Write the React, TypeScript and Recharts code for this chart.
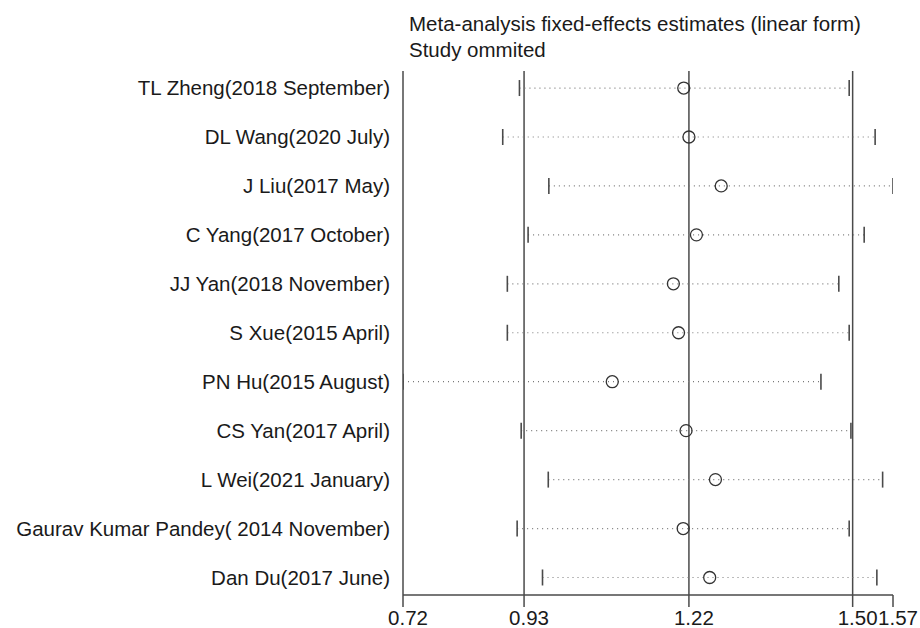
import React from 'react';
import {
  ScatterChart,
  Scatter,
  XAxis,
  YAxis,
  ReferenceLine,
} from 'recharts';

const studies = [
  'TL Zheng(2018 September)',
  'DL Wang(2020 July)',
  'J Liu(2017 May)',
  'C Yang(2017 October)',
  'JJ Yan(2018 November)',
  'S Xue(2015 April)',
  'PN Hu(2015 August)',
  'CS Yan(2017 April)',
  'L Wei(2021 January)',
  'Gaurav Kumar Pandey( 2014 November)',
  'Dan Du(2017 June)',
];

const estimates = [1.207, 1.216, 1.272, 1.229, 1.189, 1.198, 1.083, 1.211, 1.262, 1.206, 1.252];
const lowers = [0.922, 0.893, 0.973, 0.937, 0.901, 0.901, 0.72, 0.925, 0.972, 0.918, 0.962];
const uppers = [1.494, 1.539, 1.57, 1.52, 1.476, 1.494, 1.445, 1.497, 1.552, 1.494, 1.542];

// axis ticks: min lower, overall lower, estimate, overall upper, max upper
const axisTicks = [0.72, 0.93, 1.216, 1.5, 1.57];
const refLines = [0.93, 1.216, 1.5];

const titleLines = [
  'Meta-analysis fixed-effects estimates (linear form)',
  'Study ommited',
];

const FONT = '"Liberation Sans", Arial, sans-serif';
const FONT_SIZE = 20.5;
const LINE = '#4a4a4a';

const estData = estimates.map((v, i) => ({ x: v, y: i }));
const lowData = lowers.map((v, i) => ({ x: v, y: i }));
const highData = uppers.map((v, i) => ({ x: v, y: i }));

const Cap = (props: any) => (
  <line
    x1={props.cx}
    x2={props.cx}
    y1={props.cy - 8}
    y2={props.cy + 8}
    stroke={LINE}
    strokeWidth={1.6}
  />
);

const Ring = (props: any) => (
  <circle cx={props.cx} cy={props.cy} r={6} fill="none" stroke="#333" strokeWidth={1.3} />
);

const XTick = (props: any) => {
  const { x, y, payload } = props;
  return (
    <text
      x={x + 5}
      y={y}
      dy="0.71em"
      textAnchor="middle"
      fontFamily={FONT}
      fontSize={FONT_SIZE}
      fill="#1a1a1a"
    >
      {Number(payload.value).toFixed(2)}
    </text>
  );
};

export default function App() {
  return (
    <div style={{ position: 'absolute', left: 0, top: 0, width: 920, height: 628, background: '#fff' }}>
      <div
        style={{
          position: 'absolute',
          left: 409,
          top: 10.6,
          fontFamily: FONT,
          fontSize: FONT_SIZE,
          lineHeight: '26px',
          color: '#1a1a1a',
          whiteSpace: 'nowrap',
        }}
      >
        {titleLines.map((t) => (
          <div key={t}>{t}</div>
        ))}
      </div>
      <ScatterChart
        width={920}
        height={628}
        margin={{ top: 71, right: 27, bottom: 0, left: 0 }}
      >
        <XAxis
          type="number"
          dataKey="x"
          domain={[0.72, 1.57]}
          allowDataOverflow
          ticks={axisTicks}
          interval={0}
          height={33}
          tickSize={12}
          tickMargin={3}
          axisLine={{ stroke: LINE, strokeWidth: 1.5 }}
          tickLine={{ stroke: LINE, strokeWidth: 1.5 }}
          tick={<XTick />}
        />
        <YAxis
          type="number"
          dataKey="y"
          reversed
          domain={[-0.348, 10.358]}
          allowDataOverflow
          ticks={studies.map((_, i) => i)}
          interval={0}
          width={403}
          tickSize={0}
          tickMargin={13}
          tickLine={false}
          axisLine={{ stroke: LINE, strokeWidth: 1.5 }}
          tickFormatter={(i: number) => studies[i] ?? ''}
          tick={{ fontFamily: FONT, fontSize: FONT_SIZE, fill: '#1a1a1a' }}
        />
        {refLines.map((v) => (
          <ReferenceLine key={v} x={v} stroke={LINE} strokeWidth={1.5} />
        ))}
        {studies.map((s, i) => (
          <ReferenceLine
            key={s}
            segment={[
              { x: lowers[i], y: i },
              { x: uppers[i], y: i },
            ]}
            stroke="#7a7a7a"
            strokeWidth={1.2}
            strokeDasharray="1 4"
          />
        ))}
        <Scatter data={lowData} shape={<Cap />} isAnimationActive={false} />
        <Scatter data={highData} shape={<Cap />} isAnimationActive={false} />
        <Scatter data={estData} shape={<Ring />} isAnimationActive={false} />
      </ScatterChart>
    </div>
  );
}
